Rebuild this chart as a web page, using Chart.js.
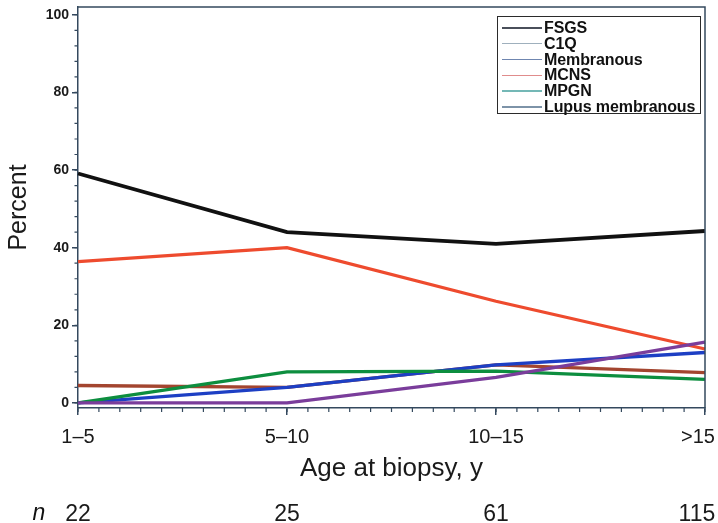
<!DOCTYPE html>
<html>
<head>
<meta charset="utf-8">
<script src="https://cdn.jsdelivr.net/npm/chart.js@4.4.1/dist/chart.umd.min.js"></script>
<style>
  html, body { margin: 0; padding: 0; background: #fff; }
  #wrap { position: relative; width: 718px; height: 523px; }
  #legend {
    position: absolute; left: 497px; top: 16px; width: 204px; height: 98px;
    border: 1.5px solid #2b2b2b; box-sizing: border-box;
    font: bold 16px "Liberation Sans", Arial, sans-serif; color: #111;
    padding-top: 3px; letter-spacing: -0.1px;
  }
  #legend .row { display: flex; align-items: center; height: 15.8px; }
  #legend .swatch { width: 40px; height: 1.5px; margin: 0 2px 0 4px; }
</style>
</head>
<body>
<div id="wrap">
  <canvas id="chart"></canvas>
  <div id="legend"></div>
</div>
<script>
/* Biopsy diagnosis by age group */

const categories = ['1–5', '5–10', '10–15', '>15'];
const nValues = ['22', '25', '61', '115'];

const fsgs = [59.1, 44.0, 41.0, 44.3];
const c1q = [4.5, 4.0, 9.8, 7.8];
const membranous = [0, 4.0, 9.8, 13.0];
const mcns = [36.4, 40.0, 26.2, 13.9];
const mpgn = [0, 8.0, 8.2, 6.1];
const lupus = [0, 0, 6.6, 15.7];

const yTicks = [0, 20, 40, 60, 80, 100];

const FONT = '"Liberation Sans", Arial, sans-serif';
const frameColor = '#34495e';

// legend order as in the figure
const series = [
  { name: 'FSGS', data: fsgs, color: '#111111', key: '#4a4f5a', width: 3.8 },
  { name: 'C1Q', data: c1q, color: '#a3452f', key: '#9fb0bd', width: 3.3 },
  { name: 'Membranous', data: membranous, color: '#1d3fc4', key: '#6f86b0', width: 3.3 },
  { name: 'MCNS', data: mcns, color: '#ee4b2e', key: '#e08c8c', width: 3.3 },
  { name: 'MPGN', data: mpgn, color: '#0d8e3f', key: '#74b8b6', width: 3.3 },
  { name: 'Lupus membranous', data: lupus, color: '#7a3d9b', key: '#7d93a8', width: 3.3 }
];

// drawing order: first dataset ends up on top
const drawOrder = ['Lupus membranous', 'MPGN', 'Membranous', 'C1Q', 'MCNS', 'FSGS'];

const legendEl = document.getElementById('legend');
series.forEach(s => {
  const row = document.createElement('div');
  row.className = 'row';
  row.innerHTML = '<span class="swatch" style="background:' + s.key + '"></span><span>' + s.name + '</span>';
  legendEl.appendChild(row);
});

// the last label sits pulled in from the right edge, as in the figure
const pullLast = (labels) => (val, i) => i === labels.length - 1 ? labels[i] + '\u2002\u2009' : labels[i];

const frameAndMinorTicks = {
  id: 'frameAndMinorTicks',
  afterDraw(chart) {
    const { ctx, chartArea: a, scales: { x, y, x2 } } = chart;
    ctx.save();
    ctx.strokeStyle = frameColor;
    ctx.lineWidth = 1.5;
    ctx.beginPath();
    ctx.moveTo(a.left, a.top);
    ctx.lineTo(a.right, a.top);
    ctx.lineTo(a.right, a.bottom);
    ctx.stroke();

    ctx.lineWidth = 1.2;
    ctx.beginPath();
    for (let v = 0; v <= 100; v += 4) {
      const py = y.getPixelForValue(v);
      ctx.moveTo(a.left - 3.5, py);
      ctx.lineTo(a.left, py);
    }
    const steps = (categories.length - 1) * 10;
    for (let i = 0; i <= steps; i++) {
      const px = x.getPixelForValue(i / 10);
      ctx.moveTo(px, a.bottom);
      ctx.lineTo(px, a.bottom + 4);
    }
    ctx.stroke();

    // "n" in front of the sample sizes
    ctx.fillStyle = '#111';
    ctx.font = 'italic 23px ' + FONT;
    ctx.textAlign = 'center';
    ctx.textBaseline = 'middle';
    ctx.fillText('n', 39, (x2.top + x2.bottom) / 2 + 7);
    ctx.restore();
  }
};

new Chart(document.getElementById('chart'), {
  type: 'line',
  data: {
    labels: categories,
    datasets: drawOrder.map(name => {
      const s = series.find(d => d.name === name);
      return {
        label: s.name,
        data: s.data,
        borderColor: s.color,
        backgroundColor: s.color,
        borderWidth: s.width,
        pointRadius: 0,
        tension: 0,
        fill: false
      };
    })
  },
  options: {
    responsive: true,
    maintainAspectRatio: false,
    animation: false,
    layout: { padding: { left: 0, top: 7, right: 13, bottom: 0 } },
    plugins: { legend: { display: false }, tooltip: { enabled: false } },
    scales: {
      x: {
        type: 'category',
        offset: false,
        afterFit: s => { s.height = 83; s.paddingLeft = 0; s.paddingRight = 0; },
        grid: { drawOnChartArea: false, tickLength: 7, color: frameColor, lineWidth: 1.5 },
        border: { color: frameColor, width: 1.5 },
        ticks: { color: '#1a1a1a', font: { family: FONT, size: 20 }, padding: 10, maxRotation: 0, autoSkip: false, callback: pullLast(categories) },
        title: { display: true, text: 'Age at biopsy, y', color: '#1a1a1a', font: { family: FONT, size: 26 }, padding: { top: 0, bottom: 7 } }
      },
      x2: {
        type: 'category',
        labels: nValues,
        position: 'bottom',
        offset: false,
        afterFit: s => { s.height = 32; s.paddingLeft = 0; s.paddingRight = 0; },
        grid: { display: false },
        border: { display: false },
        ticks: { color: '#1a1a1a', font: { family: FONT, size: 23 }, padding: 2, maxRotation: 0, autoSkip: false, callback: pullLast(nValues) }
      },
      y: {
        min: -1.3,
        max: 102,
        afterBuildTicks: s => { s.ticks = yTicks.map(v => ({ value: v })); },
        afterFit: s => { s.width = 78; s.paddingTop = 0; s.paddingBottom = 0; },
        grid: { drawOnChartArea: false, tickLength: 6, color: frameColor, lineWidth: 1.5 },
        border: { color: frameColor, width: 1.5 },
        ticks: { color: '#1a1a1a', font: { family: FONT, size: 14, weight: 'bold' }, padding: 3 },
        title: { display: true, text: 'Percent', color: '#1a1a1a', font: { family: FONT, size: 25 }, padding: { top: 4, bottom: 0 } }
      }
    }
  },
  plugins: [frameAndMinorTicks]
});
</script>
</body>
</html>
